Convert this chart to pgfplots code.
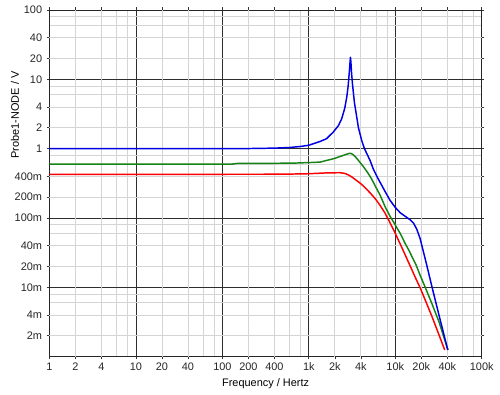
\documentclass[border=0pt]{standalone}
\usepackage{fontspec}
\setmainfont{Liberation Sans}
\usepackage{pgfplots}
\pgfplotsset{compat=1.18}
\definecolor{cblue}{RGB}{0,0,230}
\definecolor{cgreen}{RGB}{20,130,20}
\definecolor{cred}{RGB}{250,0,0}
\definecolor{majgrid}{RGB}{45,45,45}
\definecolor{mingrid}{RGB}{212,212,212}
\begin{document}
\begin{tikzpicture}[font=\fontsize{8.2}{9.8}\selectfont]
\begin{axis}[
 scale only axis, width=324.2pt, height=260pt,
 xmode=log, ymode=log,
 xmin=1, xmax=100000, ymin=0.001, ymax=100,
 xtick={1,10,100,1000,10000,100000},
 xticklabels={1,10,100,1k,10k,100k},
 extra x ticks={2,4,20,40,200,400,2000,4000,20000,40000},
 extra x tick labels={2,4,20,40,200,400,2k,4k,20k,40k},
 minor xtick={6,8,60,80,600,800,6000,8000,60000,80000},
 ytick={0.01,0.1,1,10,100},
 yticklabels={10m,100m,1,10,100},
 extra y ticks={0.002,0.004,0.02,0.04,0.2,0.4,2,4,20,40},
 extra y tick labels={2m,4m,20m,40m,200m,400m,2,4,20,40},
 minor ytick={0.006,0.008,0.06,0.08,0.6,0.8,6,8,60,80},
 grid=both,
 major grid style={majgrid, line width=0.6pt},
 minor grid style={mingrid, line width=0.6pt},
 extra tick style={grid=major, major grid style={mingrid, line width=0.6pt}},
 tick align=outside,
 major tick length=2pt, minor tick length=0pt,
 tick style={black!80, line width=0.5pt},
 axis line style={black!85, line width=0.7pt},
 ticklabel style={text=black!85},
 xticklabel style={yshift=1pt},
 xlabel={Frequency / Hertz},
 ylabel={Probe1-NODE / V},
 xlabel style={at={(axis description cs:0.5,-0.0787)}, anchor=center},
 ylabel style={at={(axis description cs:-0.0798,0.697)}, anchor=center},
 every axis plot/.append style={line width=1.1pt, line join=round},
]
\addplot[cred] coordinates {
(1,0.425)(500,0.428)(1000,0.435)(1600,0.447)(2300,0.45)(2600,0.44)(2870,0.418)(3150,0.39)(3435,0.36)(3900,0.32)(4400,0.28)(5120,0.23)(5860,0.19)(6600,0.155)(7640,0.117)(8700,0.085)(10000,0.06)(12000,0.0367)(14220,0.023)(17000,0.0140)(19430,0.0098)(22500,0.0063)(26550,0.0038)(31000,0.0023)(37300,0.00125)};
\addplot[cgreen] coordinates {
(1,0.60)(130,0.60)(150,0.612)(400,0.615)(700,0.62)(1000,0.63)(1350,0.64)(2000,0.725)(2500,0.80)(2800,0.84)(2950,0.855)(3050,0.855)(3200,0.83)(3400,0.78)(3600,0.72)(3900,0.635)(4290,0.548)(4800,0.45)(5300,0.37)(5860,0.29)(6680,0.213)(7640,0.145)(8720,0.105)(9530,0.088)(10440,0.072)(11400,0.060)(13000,0.043)(14300,0.0346)(17400,0.021)(19400,0.0149)(22200,0.010)(26550,0.0058)(32000,0.0032)(40600,0.00125)};
\addplot[cblue] coordinates {
(1,1.0)(100,1.0)(200,1.004)(400,1.018)(600,1.04)(800,1.075)(1000,1.12)(1350,1.27)(1600,1.39)(1930,1.75)(2200,2.15)(2400,2.7)(2600,3.8)(2750,5.6)(2850,8.0)(2950,13.5)(3000,18.0)(3030,20.8)(3060,18.5)(3120,12.5)(3200,8.5)(3370,4.6)(3750,2.0)(4100,1.3)(4400,1.0)(5100,0.68)(5600,0.50)(6400,0.36)(7500,0.25)(8700,0.18)(10000,0.142)(11400,0.119)(13000,0.106)(14900,0.094)(16300,0.084)(17800,0.068)(19430,0.05)(23200,0.0205)(26550,0.0102)(32000,0.004)(40500,0.00125)};
\end{axis}
\pgfresetboundingbox
\path ([shift={(-37.1pt,-28.7pt)}]current axis.south west) rectangle ([shift={(13.7pt,7.5pt)}]current axis.north east);
\end{tikzpicture}
\end{document}
